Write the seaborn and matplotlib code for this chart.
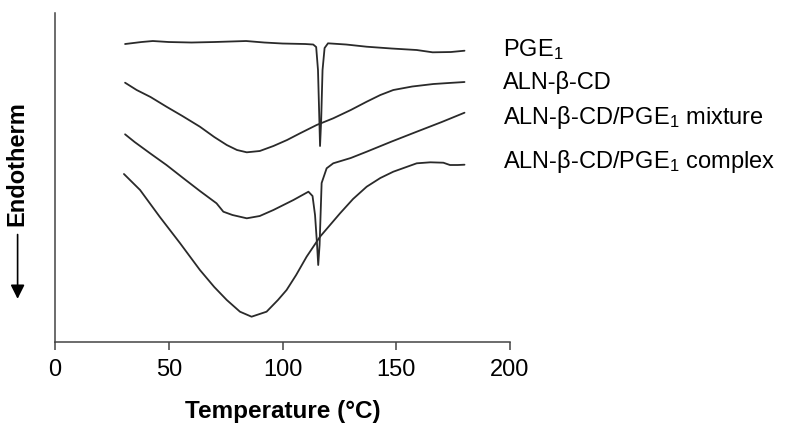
import pandas as pd
import numpy as np
import matplotlib
matplotlib.use('Agg')
import matplotlib.pyplot as plt
import seaborn as sns

# Данные DSC (температура, сигнал в условных единицах)
t_pge1 = [30.8, 38, 43, 50, 60, 70, 84, 92, 100, 110, 113.5, 114.8, 115.6, 116.2, 116.5,
          117, 117.6, 118.5, 120, 128, 137, 148, 159, 166, 174, 180]
s_pge1 = [298, 300, 301, 300, 299.5, 300, 301, 299.5, 298.5, 298, 297.5, 295, 272, 222, 196,
          222, 272, 294, 298.7, 297.5, 295.3, 293.5, 292, 289.7, 290, 291.3]

t_cd = [30.8, 35.9, 42, 49, 56, 63.7, 70, 75.5, 80, 84.3, 90, 96, 102, 107.7, 115, 122.3,
        130, 137, 143, 148.7, 157, 166.3, 173, 180]
s_cd = [259.3, 252, 245, 235.3, 226, 215.3, 205, 197, 192, 189.7, 191, 196, 202, 208.7, 217,
        223.7, 232, 240.3, 247, 252, 255.5, 258, 259, 260]

t_mix = [30.8, 35, 41.8, 49, 56.3, 63.7, 71, 74, 78, 84.3, 90, 96, 104.8, 111.4, 113.2, 114.3,
         115.2, 115.7, 116.3, 117.2, 119.4, 122.3, 130, 137, 148, 159, 170, 180]
s_mix = [207.7, 200, 188.7, 177, 164, 151, 138.7, 130.3, 127, 123.7, 126, 132, 142, 150.3, 146,
         127, 97, 77, 97, 159, 173.7, 178.7, 184, 190.3, 200.5, 210.3, 220, 229.3]

t_cpx = [30.3, 37.4, 46, 55, 63.7, 70, 75.5, 81.3, 86.4, 93, 98, 101.8, 106, 110.6, 116.5,
         125.3, 131, 137, 143, 148.7, 159, 165, 170.7, 173.6, 177, 180]
s_cpx = [168, 152, 125.3, 98.7, 72, 55, 42, 30.3, 25.3, 30.3, 42, 52, 67, 85.3, 105.3,
         128.7, 143, 155.3, 164, 170.3, 178.7, 179.7, 179.3, 177, 177, 177.3]

names = ['PGE$_1$', 'ALN-β-CD', 'ALN-β-CD/PGE$_1$ mixture', 'ALN-β-CD/PGE$_1$ complex']
x_ticks = [0, 50, 100, 150, 200]

frames = []
for name, t, s in zip(names, [t_pge1, t_cd, t_mix, t_cpx], [s_pge1, s_cd, s_mix, s_cpx]):
    frames.append(pd.DataFrame({'T': t, 'signal': s, 'sample': name}))
data = pd.concat(frames, ignore_index=True)

sns.set_style('ticks')
plt.rcParams['font.family'] = ['Liberation Sans', 'DejaVu Sans']
plt.rcParams['mathtext.fontset'] = 'custom'
plt.rcParams['mathtext.rm'] = 'Liberation Sans'
plt.rcParams['mathtext.it'] = 'Liberation Sans:italic'
plt.rcParams['mathtext.bf'] = 'Liberation Sans:bold'
plt.rcParams['text.color'] = 'black'
plt.rcParams['xtick.color'] = '#444444'
plt.rcParams['xtick.labelcolor'] = 'black'

fig = plt.figure(figsize=(8, 4.34), dpi=100)
ax = fig.add_axes([0.06875, 0.212, 0.56875, 0.758])

for name in names:
    sub = data[data['sample'] == name]
    sns.lineplot(x='T', y='signal', data=sub, ax=ax, color='#2a2a2a', lw=1.3,
                 estimator=None, sort=False, legend=False)

ax.set_xlim(0, 200)
ax.set_ylim(0, 329)
ax.set_xticks(x_ticks)
ax.set_yticks([])
ax.tick_params(axis='x', length=6, width=1.1, labelsize=17, pad=6)
ax.set_ylabel('')
ax.set_xlabel('Temperature (°C)', fontsize=17.5, fontweight='bold', labelpad=14, color='black')
sns.despine(ax=ax)
for sp in ['left', 'bottom']:
    ax.spines[sp].set_color('#444444')
    ax.spines[sp].set_linewidth(1.1)

# Подписи кривых справа
label_y = [0.871, 0.795, 0.714, 0.614]
for name, y in zip(names, label_y):
    fig.text(0.629, y, name, fontsize=17, va='baseline', ha='left', color='black')

# Подпись оси Y со стрелкой
fig.text(0.021, 0.623, 'Endotherm', rotation=90, fontsize=17, fontweight='bold',
         ha='center', va='center', color='black')
fig.add_artist(matplotlib.patches.FancyArrowPatch((0.022, 0.466), (0.022, 0.305),
               transform=fig.transFigure, arrowstyle='-|>,head_length=0.6,head_width=0.3',
               mutation_scale=14, color='black', lw=1.2))

plt.savefig('out.png', dpi=100)
